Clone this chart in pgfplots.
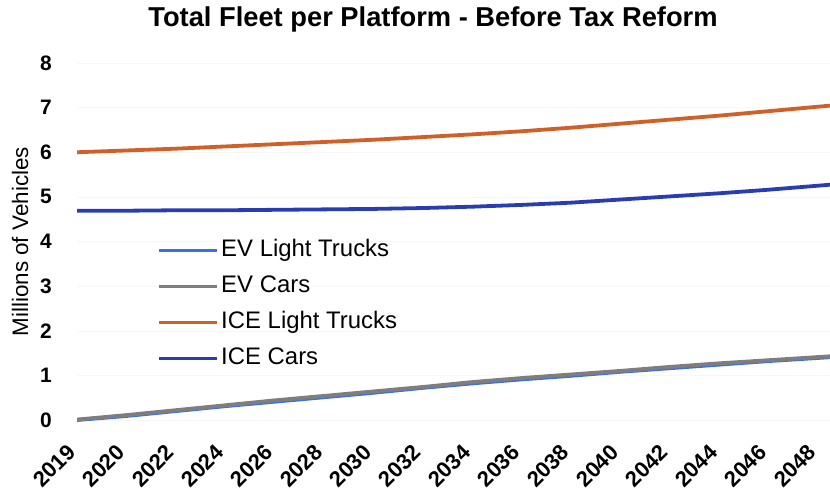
\documentclass[border=0pt]{standalone}
\usepackage{pgfplots}
\pgfplotsset{compat=1.18}
\usepackage{fontspec}
\setmainfont{Liberation Sans}
\usetikzlibrary{calc}
\definecolor{evlt}{HTML}{3D6FE0}
\definecolor{evcar}{HTML}{7E7E80}
\definecolor{icelt}{HTML}{CF6128}
\definecolor{icecar}{HTML}{2A3DB0}
\pgfplotstableread{
k    evlt  evcar icelt icecar
0    0.00  0.01  6.00  4.69
1    0.09  0.11  6.04  4.69
2    0.20  0.22  6.08  4.70
3    0.31  0.33  6.13  4.70
4    0.41  0.44  6.18  4.71
5    0.51  0.54  6.23  4.72
6    0.61  0.64  6.28  4.73
7    0.72  0.74  6.34  4.75
8    0.82  0.85  6.40  4.78
9    0.91  0.94  6.47  4.82
10   0.99  1.02  6.55  4.87
11   1.08  1.10  6.64  4.94
12   1.16  1.19  6.73  5.01
13   1.24  1.27  6.82  5.08
14   1.32  1.34  6.92  5.16
15   1.39  1.41  7.02  5.25
16   1.46  1.48  7.12  5.34
}\fleet
\begin{document}
\begin{tikzpicture}
\begin{axis}[
  name=ax,
  scale only axis,
  width=753bp, height=358.8bp,
  xmin=0, xmax=15.25,
  ymin=-0.04, ymax=8,
  axis line style={draw=none},
  tick style={draw=none},
  ymajorgrids, grid style={gray!6},
  xtick={0,...,15},
  xticklabels={2019,2020,2022,2024,2026,2028,2030,2032,2034,2036,2038,2040,2042,2044,2046,2048},
  ytick={0,...,8},
  yticklabels={0,1,2,3,4,5,6,7,8},
  xticklabel style={font=\bfseries\fontsize{22}{25}\selectfont, anchor=north east, inner sep=0pt, xshift=-11bp, yshift=-21bp, rotate=45},
  yticklabel style={font=\bfseries\fontsize{21}{24}\selectfont, anchor=east, inner sep=0pt, xshift=-25bp},
  legend style={at={(rel axis cs:0.103,0.513)}, anchor=north west, draw=none, fill=none,
    font=\fontsize{24}{28}\selectfont, row sep=15bp,
    nodes={inner ysep=0pt, inner xsep=2bp, text height=17bp, text depth=4bp}},
  legend cell align=left,
  legend image code/.code={\draw[#1, line width=3.5bp] (0bp,0bp) -- (58bp,0bp);},
  every axis plot/.append style={line width=3.8bp},
]
\addplot[evlt, no markers] table[x=k, y=evlt] {\fleet};
\addlegendentry{EV Light Trucks}
\addplot[evcar, no markers] table[x=k, y=evcar] {\fleet};
\addlegendentry{EV Cars}
\addplot[icelt, no markers] table[x=k, y=icelt] {\fleet};
\addlegendentry{ICE Light Trucks}
\addplot[icecar, no markers] table[x=k, y=icecar] {\fleet};
\addlegendentry{ICE Cars}
\end{axis}
\node[anchor=base, font=\bfseries\fontsize{27.4}{31}\selectfont] at ($(ax.north west)+(356bp,36bp)$) {Total Fleet per Platform - Before Tax Reform};
\node[rotate=90, font=\fontsize{22.5}{26}\selectfont] at ($(ax.south west)+(-57bp,180bp)$) {Millions of Vehicles};
\pgfresetboundingbox
\path[use as bounding box] ($(ax.south west)+(-77bp,-71.2bp)$) rectangle ++(830bp,493bp);
\end{tikzpicture}
\end{document}
